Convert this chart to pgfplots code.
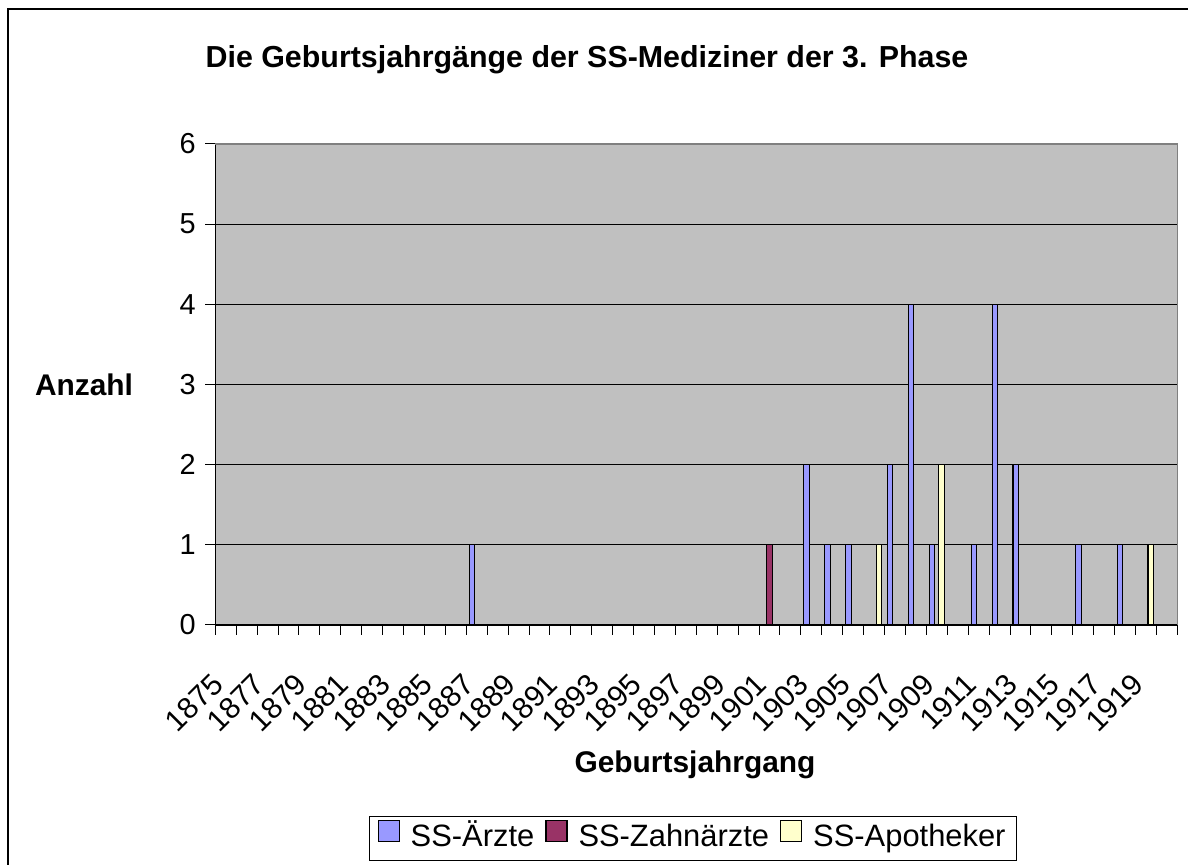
\documentclass[border=0pt]{standalone}
\usepackage{pgfplots}
\pgfplotsset{compat=1.18}
\usepackage{fontspec}
\setmainfont{Liberation Sans}
\definecolor{arzt}{HTML}{9999FF}
\definecolor{zahn}{HTML}{993366}
\definecolor{apo}{HTML}{FFFFCC}
\definecolor{plotbg}{HTML}{C0C0C0}
\definecolor{frame}{HTML}{808080}
\begin{document}
\begin{tikzpicture}
\begin{axis}[
  width=962bp, height=481bp, scale only axis,
  xmin=-0.5, xmax=45.5, ymin=0, ymax=6,
  axis background/.style={fill=plotbg},
  axis x line*=bottom, axis y line*=left,
  axis line style={black, line width=1.2bp, -},
  ytick={0,1,2,3,4,5,6},
  ymajorgrids, grid style={black, line width=1bp},
  tick align=outside, major tick length=10bp,
  tick style={black, line width=1bp},
  /pgf/number format/assume math mode=true,
  xtick={-0.5,0.5,...,45.5},
  xticklabels={1875,{},1877,{},1879,{},1881,{},1883,{},1885,{},1887,{},1889,{},1891,{},1893,{},1895,{},1897,{},1899,{},1901,{},1903,{},1905,{},1907,{},1909,{},1911,{},1913,{},1915,{},1917,{},1919,{},{}},
  xticklabel style={font=\fontsize{30}{35}\selectfont, xshift=2.5bp, yshift=-44bp, anchor=east, rotate=45, inner sep=0pt},
  yticklabel style={font=\fontsize{29}{34}\selectfont, xshift=-6bp},
  ybar, bar width=5.4bp,
  legend columns=3,
  legend style={at={(0.4966,-0.4439)}, anchor=center, draw=black, line width=1bp,
    font=\fontsize{31}{36}\selectfont, column sep=8bp, inner xsep=8bp, inner ysep=4bp,
    nodes={inner sep=3bp, text height=23bp, text depth=7bp}},
  legend image code/.code={\draw[#1, draw=black, line width=1.2bp] (0bp,-3bp) rectangle (21bp,18bp);},
  after end axis/.code={\draw[frame, line width=1.5bp] (rel axis cs:0,1) -- (rel axis cs:1,1) -- (rel axis cs:1,0);
    \coordinate (O) at (rel axis cs:0,0);},
]
\addplot[fill=arzt, draw=black, line width=1.1bp, bar shift=-4.8bp] coordinates {
(12,1) (28,2) (29,1) (30,1) (32,2) (33,4) (34,1) (36,1) (37,4) (38,2) (41,1) (43,1)};
\addplot[fill=zahn, draw=black, line width=1.1bp, bar shift=0bp] coordinates {(26,1)};
\addplot[fill=apo, draw=black, line width=1.1bp, bar shift=4.8bp] coordinates {(31,1) (34,2) (44,1)};
\legend{SS-Ärzte,SS-Zahnärzte,SS-Apotheker}
\end{axis}
\pgfresetboundingbox
\begin{scope}[shift={(O)}, xshift=-215.3bp, yshift=-240bp, x=1bp, y=1bp]
\useasboundingbox (0,0) rectangle (1188,865);
\draw[black, line width=2bp] (8,-5) -- (8,856) -- (1195,856);
\node[font=\fontsize{30.5}{36}\selectfont\bfseries] at (587,805) {Die Geburtsjahrgänge der SS-Mediziner der 3. Phase};
\node[font=\fontsize{30}{36}\selectfont\bfseries] at (84,480) {Anzahl};
\node[font=\fontsize{30}{36}\selectfont\bfseries] at (695,100) {Geburtsjahrgang};
\end{scope}
\end{tikzpicture}
\end{document}
